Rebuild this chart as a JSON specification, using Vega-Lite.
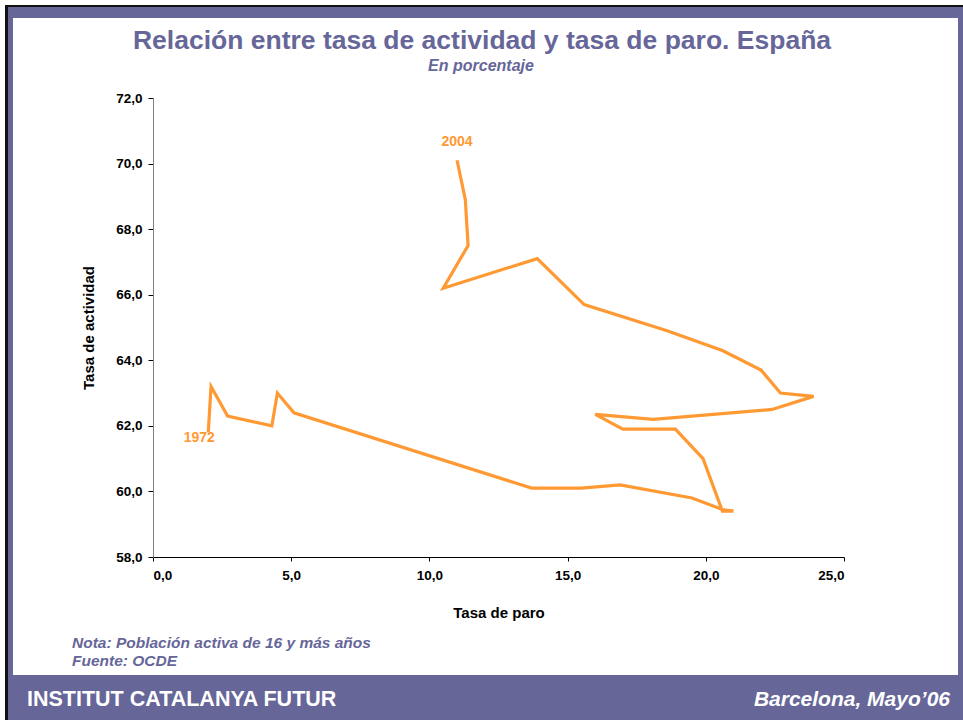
{
  "$schema": "https://vega.github.io/schema/vega-lite/v6.json",
  "width": 691,
  "height": 459,
  "autosize": {"type": "none"},
  "padding": {"left": 153, "top": 98, "right": 119, "bottom": 163},
  "background": "white",
  "config": {
    "view": {"stroke": null},
    "font": "Liberation Sans",
    "locale": {"number": {"decimal": ",", "thousands": ".", "grouping": [3], "currency": ["", " €"]}}
  },
  "data": {
    "values": [
      {"year": 1972, "paro": 2.0, "actividad": 61.8},
      {"year": 1973, "paro": 2.1, "actividad": 63.2},
      {"year": 1974, "paro": 2.7, "actividad": 62.3},
      {"year": 1975, "paro": 4.3, "actividad": 62.0},
      {"year": 1976, "paro": 4.5, "actividad": 63.0},
      {"year": 1977, "paro": 5.1, "actividad": 62.4},
      {"year": 1981, "paro": 13.7, "actividad": 60.1},
      {"year": 1982, "paro": 15.5, "actividad": 60.1},
      {"year": 1983, "paro": 16.9, "actividad": 60.2},
      {"year": 1984, "paro": 19.5, "actividad": 59.8},
      {"year": 1985, "paro": 20.6, "actividad": 59.45},
      {"year": 1986, "paro": 21.0, "actividad": 59.4},
      {"year": 1987, "paro": 20.6, "actividad": 59.4},
      {"year": 1988, "paro": 19.9, "actividad": 61.0},
      {"year": 1989, "paro": 18.9, "actividad": 61.9},
      {"year": 1990, "paro": 17.0, "actividad": 61.9},
      {"year": 1991, "paro": 16.0, "actividad": 62.35},
      {"year": 1992, "paro": 18.1, "actividad": 62.2},
      {"year": 1993, "paro": 22.4, "actividad": 62.5},
      {"year": 1994, "paro": 23.9, "actividad": 62.9},
      {"year": 1995, "paro": 22.7, "actividad": 63.0},
      {"year": 1996, "paro": 22.0, "actividad": 63.7},
      {"year": 1997, "paro": 20.6, "actividad": 64.3},
      {"year": 1998, "paro": 18.6, "actividad": 64.9},
      {"year": 1999, "paro": 15.6, "actividad": 65.7},
      {"year": 2000, "paro": 13.9, "actividad": 67.1},
      {"year": 2001, "paro": 10.5, "actividad": 66.2},
      {"year": 2002, "paro": 11.4, "actividad": 67.5},
      {"year": 2003, "paro": 11.3, "actividad": 68.9},
      {"year": 2004, "paro": 11.0, "actividad": 70.1}
    ]
  },
  "layer": [
    {
      "data": {"values": [{}]},
      "mark": {"type": "rect", "fill": "#111111"},
      "encoding": {"x": {"value": -148}, "x2": {"value": 810}, "y": {"value": -93}, "y2": {"value": 622}}
    },
    {
      "data": {"values": [{}]},
      "mark": {"type": "rect", "fill": "#666699"},
      "encoding": {"x": {"value": -145}, "x2": {"value": 810}, "y": {"value": -91}, "y2": {"value": 622}}
    },
    {
      "data": {"values": [{}]},
      "mark": {"type": "rect", "fill": "#ffffff"},
      "encoding": {"x": {"value": -140}, "x2": {"value": 805}, "y": {"value": -80}, "y2": {"value": 577}}
    },
    {
      "mark": {"type": "line", "color": "#FF9933", "strokeWidth": 3.2, "strokeJoin": "miter"},
      "encoding": {
        "x": {
          "field": "paro", "type": "quantitative",
          "scale": {"domain": [0, 25], "nice": false, "zero": false},
          "axis": {
            "title": "Tasa de paro", "values": [0, 5, 10, 15, 20, 25], "format": ".1f",
            "grid": false, "zindex": 1, "domainColor": "#000000", "tickColor": "#000000", "tickSize": 4,
            "labelFontSize": 13.5, "labelFontWeight": "bold", "labelColor": "#000000", "labelPadding": 7,
            "titleFontSize": 15, "titleFontWeight": "bold", "titleColor": "#000000", "titlePadding": 24
          }
        },
        "y": {
          "field": "actividad", "type": "quantitative",
          "scale": {"domain": [58, 72], "nice": false, "zero": false},
          "axis": {
            "title": "Tasa de actividad", "values": [58, 60, 62, 64, 66, 68, 70, 72], "format": ".1f",
            "grid": false, "zindex": 1, "domainColor": "#808080", "tickColor": "#000000", "tickSize": 5,
            "labelFontSize": 13.5, "labelFontWeight": "bold", "labelColor": "#000000", "labelPadding": 6,
            "titleFontSize": 15, "titleFontWeight": "bold", "titleColor": "#000000", "titlePadding": 19
          }
        },
        "order": {"field": "year", "type": "quantitative"}
      }
    },
    {
      "transform": [{"filter": "datum.year == 1972"}],
      "mark": {"type": "text", "color": "#FF9933", "fontSize": 14, "fontWeight": "bold", "align": "center", "baseline": "middle", "dx": -9, "dy": 6},
      "encoding": {
        "x": {"field": "paro", "type": "quantitative"},
        "y": {"field": "actividad", "type": "quantitative"},
        "text": {"field": "year", "type": "nominal"}
      }
    },
    {
      "transform": [{"filter": "datum.year == 2004"}],
      "mark": {"type": "text", "color": "#FF9933", "fontSize": 14, "fontWeight": "bold", "align": "center", "baseline": "middle", "dx": 0, "dy": -18},
      "encoding": {
        "x": {"field": "paro", "type": "quantitative"},
        "y": {"field": "actividad", "type": "quantitative"},
        "text": {"field": "year", "type": "nominal"}
      }
    },
    {
      "data": {"values": [{"t": "Relación entre tasa de actividad y tasa de paro. España"}]},
      "mark": {"type": "text", "color": "#666699", "fontSize": 26.5, "fontWeight": "bold", "align": "center", "baseline": "alphabetic"},
      "encoding": {"x": {"value": 329}, "y": {"value": -49}, "text": {"field": "t", "type": "nominal"}}
    },
    {
      "data": {"values": [{"t": "En porcentaje"}]},
      "mark": {"type": "text", "color": "#666699", "fontSize": 16, "fontWeight": "bold", "fontStyle": "italic", "align": "center", "baseline": "alphabetic"},
      "encoding": {"x": {"value": 328}, "y": {"value": -27}, "text": {"field": "t", "type": "nominal"}}
    },
    {
      "data": {"values": [{"t": "Nota: Población activa de 16 y más años"}]},
      "mark": {"type": "text", "color": "#666699", "fontSize": 15.5, "fontWeight": "bold", "fontStyle": "italic", "align": "left", "baseline": "middle"},
      "encoding": {"x": {"value": -81}, "y": {"value": 545}, "text": {"field": "t", "type": "nominal"}}
    },
    {
      "data": {"values": [{"t": "Fuente: OCDE"}]},
      "mark": {"type": "text", "color": "#666699", "fontSize": 15.5, "fontWeight": "bold", "fontStyle": "italic", "align": "left", "baseline": "middle"},
      "encoding": {"x": {"value": -81}, "y": {"value": 563}, "text": {"field": "t", "type": "nominal"}}
    },
    {
      "data": {"values": [{"t": "INSTITUT CATALANYA FUTUR"}]},
      "mark": {"type": "text", "color": "#ffffff", "fontSize": 21.5, "fontWeight": "bold", "align": "left", "baseline": "middle"},
      "encoding": {"x": {"value": -126}, "y": {"value": 602}, "text": {"field": "t", "type": "nominal"}}
    },
    {
      "data": {"values": [{"t": "Barcelona, Mayo’06"}]},
      "mark": {"type": "text", "color": "#ffffff", "fontSize": 21, "fontWeight": "bold", "fontStyle": "italic", "align": "right", "baseline": "middle"},
      "encoding": {"x": {"value": 797}, "y": {"value": 602}, "text": {"field": "t", "type": "nominal"}}
    }
  ]
}
